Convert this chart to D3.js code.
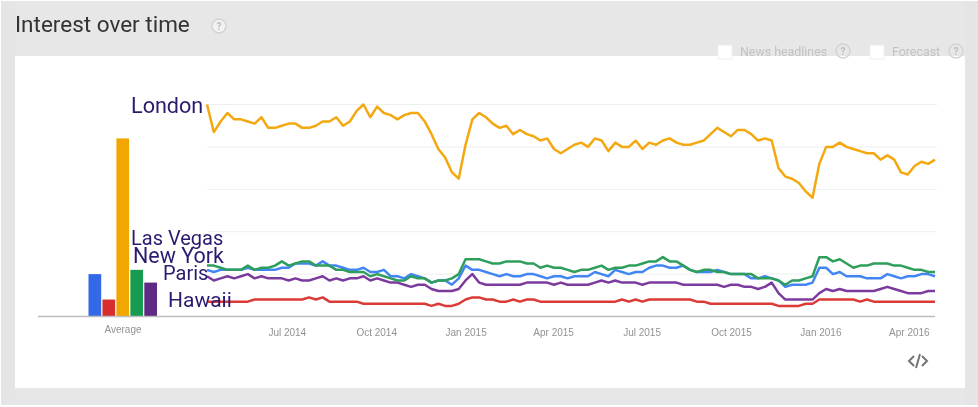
<!DOCTYPE html>
<html>
<head>
<meta charset="utf-8">
<script src="https://cdnjs.cloudflare.com/ajax/libs/d3/7.8.5/d3.min.js"></script>
<style>
html, body { margin: 0; padding: 0; background: #fff; overflow: hidden; }
svg { filter: blur(0.3px); }
text { font-family: Roboto, sans-serif; }
.tick text { font-family: "Liberation Sans", Arial, sans-serif; font-size: 10px; fill: #929292; }
.term { fill: #2c1a6f; }
.help { font-size: 10px; font-weight: bold; fill: #bdbdbd; text-anchor: middle; }
.opt { font-size: 12.4px; fill: #c2c2c2; }
</style>
</head>
<body>
<div id="chart"></div>
<script>
var terms = ["New York", "Hawaii", "London", "Las Vegas", "Paris"];
var averages = [20, 8, 84, 22, 16];
var gridValues = [0, 20, 40, 60, 80, 100];
var tickLabels = ["Jul 2014", "Oct 2014", "Jan 2015", "Apr 2015", "Jul 2015", "Oct 2015", "Jan 2016", "Apr 2016"];

// weekly values, first week is 13 Apr 2014
var london = [100,87,92,96,93,93,92,91,94,89,89,90,91,91,89,89,90,92,92,94,90,92,97,100,94,99,96,95,93,95,96,96,92,86,79,75,68,65,
  81,93,96,94,91,89,90,86,88,86,85,83,84,79,77,79,81,82,80,84,83,78,82,80,80,83,79,82,81,83,84,82,81,81,82,
  83,86,89,87,85,88,88,86,83,84,83,70,66,65,63,59,56,72,80,80,82,80,79,78,77,77,74,76,74,68,67,71,73,72,74];
var newYork = [22,21,22,22,22,22,23,22,22,22,22,23,23,25,25,25,24,
  26,24,24,23,22,22,23,21,21,22,19,19,18,20,19,18,16,17,17,15,18,24,22,22,21,20,19,20,19,19,20,20,19,18,19,19,18,19,19,
  19,21,20,19,22,21,20,21,21,23,24,24,23,23,24,22,21,21,21,22,21,20,20,20,18,18,
  19,18,17,14,15,15,15,16,23,23,20,21,19,19,19,18,18,18,20,19,18,19,19,20,20,19];
var lasVegas = [24,24,23,22,22,22,24,22,23,23,24,26,24,25,26,26,24,
  24,24,22,22,21,21,21,19,20,19,18,17,17,19,18,18,16,17,17,18,20,27,27,27,26,25,25,26,26,26,25,25,23,24,23,23,22,21,22,
  22,23,24,22,23,23,24,24,25,26,26,28,26,26,24,22,21,22,22,21,21,20,20,20,20,18,
  18,18,17,15,17,17,18,19,28,28,26,27,25,23,24,24,25,25,25,24,24,23,22,22,21,21];
var paris = [19,17,18,19,18,19,20,18,19,18,18,18,17,18,17,17,18,
  19,17,18,17,18,18,19,17,18,17,16,16,15,14,15,15,13,12,12,12,13,17,20,16,15,15,15,15,15,15,16,16,16,16,15,16,15,15,15,
  15,16,17,16,17,16,16,16,15,16,16,16,16,16,15,15,15,15,15,15,14,15,15,14,14,13,
  14,16,11,8,8,8,8,8,11,13,12,13,12,12,12,12,12,13,14,13,12,11,11,11,12,12];
var hawaii = [7,7,7,7,7,7,7,8,8,8,8,8,8,8,8,9,8,
  9,7,7,7,7,7,6,6,6,6,6,6,6,6,6,6,5,6,5,5,6,8,9,9,8,8,7,7,8,7,8,8,7,7,7,7,7,7,7,
  7,7,7,7,7,8,7,8,7,8,8,8,8,8,8,8,7,7,6,6,6,6,6,6,6,6,
  6,6,5,5,5,5,6,6,8,8,8,8,8,8,7,8,7,7,7,7,7,7,7,7,7,7];

var lineColors = ["#4285f4", "#db3a37", "#f4a80f", "#2e9e5b", "#7b3b9e"];
var barColors = ["#3369e8", "#d62d2f", "#f2a600", "#169b4f", "#5f2a85"];

var width = 978, height = 407;
var svg = d3.select("#chart").append("svg")
    .attr("width", width)
    .attr("height", height)
    .style("display", "block");

// grey card, then the white panel
svg.append("rect").attr("x", 1).attr("y", 1).attr("width", 977).attr("height", 404).attr("fill", "#e8e7e8");
svg.append("rect").attr("x", 1).attr("y", 1).attr("width", 14).attr("height", 404).attr("fill", "#e5e5e5");
svg.append("rect").attr("x", 965).attr("y", 1).attr("width", 13).attr("height", 404).attr("fill", "#e5e5e5");
svg.append("rect").attr("x", 15).attr("y", 56).attr("width", 950).attr("height", 332).attr("fill", "#fff");

svg.append("text").attr("x", 15).attr("y", 31.5)
    .attr("font-size", 22.5).attr("fill", "#333").text("Interest over time");

function helpIcon(cx, cy, r, fill) {
    svg.append("circle").attr("cx", cx).attr("cy", cy).attr("r", r)
        .attr("fill", fill).attr("stroke", "#d4d4d4").attr("stroke-width", 1.5);
    svg.append("text").attr("class", "help").attr("x", cx).attr("y", cy + 3.5).text("?");
}
helpIcon(219, 26, 7, "#f2f2f2");

// the two unticked options
svg.append("rect").attr("x", 718).attr("y", 45).attr("width", 14).attr("height", 14).attr("fill", "#fff").attr("stroke", "#eee");
svg.append("text").attr("class", "opt").attr("x", 740).attr("y", 55.5).text("News headlines");
helpIcon(843, 51, 7, "none");
svg.append("rect").attr("x", 870).attr("y", 45).attr("width", 14).attr("height", 14).attr("fill", "#fff").attr("stroke", "#eee");
svg.append("text").attr("class", "opt").attr("x", 892).attr("y", 55.5).text("Forecast");
helpIcon(956, 51, 7, "none");

var start = d3.utcParse("%Y-%m-%d")("2014-04-13");
var weeks = london.map(function(d, i) { return d3.utcWeek.offset(start, i); });

var x = d3.scaleUtc().domain([weeks[0], weeks[weeks.length - 1]]).range([207, 935]);
var y = d3.scaleLinear().domain([0, 100]).range([316.5, 104.5]);
var xBar = d3.scaleBand().domain(terms).range([88.5, 157]).paddingInner(0.09);

svg.selectAll(".grid").data(gridValues.slice(1)).enter().append("line")
    .attr("class", "grid")
    .attr("x1", x.range()[0]).attr("x2", 937)
    .attr("y1", function(d) { return y(d); }).attr("y2", function(d) { return y(d); })
    .attr("stroke", "#eeeeee").attr("stroke-width", 1);

// average bars
svg.selectAll(".bar").data(averages).enter().append("rect")
    .attr("class", "bar")
    .attr("x", function(d, i) { return xBar(terms[i]); })
    .attr("y", function(d) { return y(d); })
    .attr("width", xBar.bandwidth())
    .attr("height", function(d) { return y(0) - y(d); })
    .attr("fill", function(d, i) { return barColors[i]; });

// baseline
svg.append("line").attr("x1", 38).attr("x2", 935)
    .attr("y1", y(0)).attr("y2", y(0))
    .attr("stroke", "#bdbdbd").attr("stroke-width", 1.5);

var parseTick = d3.utcParse("%b %Y");
var axis = d3.axisBottom(x)
    .tickValues(tickLabels.map(parseTick))
    .tickFormat(d3.utcFormat("%b %Y"))
    .tickSize(0);
var axisG = svg.append("g").attr("transform", "translate(0," + y(0) + ")").call(axis);
axisG.select(".domain").remove();
axisG.selectAll("text").attr("dx", 3).attr("y", 12);

svg.append("text").attr("x", 123).attr("y", 332.5)
    .attr("text-anchor", "middle")
    .style("font-family", "'Liberation Sans', Arial, sans-serif")
    .attr("font-size", 10).attr("fill", "#929292").text("Average");

var line = d3.line()
    .x(function(d, i) { return x(weeks[i]); })
    .y(function(d) { return y(d); });

// paris and hawaii go under, las vegas on top
var seriesOrder = [[hawaii, 1], [paris, 4], [newYork, 0], [lasVegas, 3], [london, 2]];
svg.selectAll(".series").data(seriesOrder).enter().append("path")
    .attr("class", "series")
    .attr("fill", "none")
    .attr("stroke", function(d) { return lineColors[d[1]]; })
    .attr("stroke-width", 2.5)
    .attr("stroke-linejoin", "round")
    .attr("d", function(d) { return line(d[0]); });

// names pasted over the chart: text, x, baseline, size
var termLabels = [
    ["London", 131, 113, 21.6],
    ["Las Vegas", 131, 245, 20],
    ["New York", 133, 263, 21.5],
    ["Paris", 163, 280, 20],
    ["Hawaii", 168, 307, 21]
];
svg.selectAll(".term").data(termLabels).enter().append("text")
    .attr("class", "term")
    .attr("x", function(d) { return d[1]; })
    .attr("y", function(d) { return d[2]; })
    .attr("font-size", function(d) { return d[3]; })
    .text(function(d) { return d[0]; });

// embed icon
svg.append("path")
    .attr("d", "M914 356 L909 361 L914 366 M922 356 L927 361 L922 366 M920 354 L916 368")
    .attr("fill", "none").attr("stroke", "#757575").attr("stroke-width", 2);
</script>
</body>
</html>
